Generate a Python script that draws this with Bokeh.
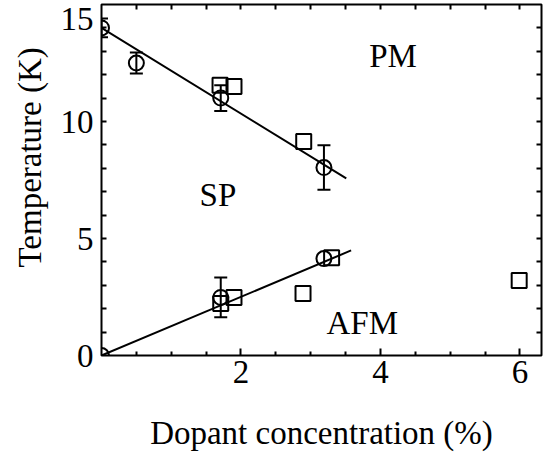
from bokeh.plotting import figure
from bokeh.models import (ColumnDataSource, Range1d, FixedTicker, LinearAxis,
                          Title, Whisker, TeeHead)
from bokeh.core.properties import value
from bokeh.embed import file_html
from bokeh.resources import INLINE

# ---- data ----
circ_x = [0.0, 0.5, 1.71, 3.19, 0.0, 1.71, 3.19]
circ_t = [14.0, 12.5, 11.0, 8.03, 0.0, 2.48, 4.14]
circ_err = [0.4, 0.45, 0.55, 0.95, 0.0, 0.85, 0.0]

sq_x = [1.70, 1.90, 2.90, 1.71, 1.90, 2.89, 3.30, 5.99]
sq_t = [11.55, 11.5, 9.15, 2.22, 2.48, 2.65, 4.18, 3.2]

fit_upper_x = [0.0, 3.51]
fit_upper_t = [14.0, 7.57]
fit_lower_x = [0.0, 3.58]
fit_lower_t = [0.0, 4.49]

phase_names = ["PM", "SP", "AFM"]
phase_x = [4.18, 1.67, 3.74]
phase_t = [12.8, 6.84, 1.41]

x_ticks = [2, 4, 6]
x_minor = [0.5, 1, 1.5, 2.5, 3, 3.5, 4.5, 5, 5.5]
x_all = [0.5, 1, 1.5, 2, 2.5, 3, 3.5, 4, 4.5, 5, 5.5, 6]
# the "15" label sits a little below the top edge, as in the reference
y_label_pos = [0, 5, 10, 14.4]
y_label_text = {14.4: "15"}
y_all = [1, 2, 3, 4, 5, 6, 7, 8, 9, 10, 11, 12, 13, 14]

FONT = "Liberation Serif"
FS = "33px"

p = figure(width=544, height=459, x_range=Range1d(0, 6.31), y_range=Range1d(0, 15),
           output_backend="svg", toolbar_location=None,
           min_border_left=101, min_border_right=3, min_border_top=4, min_border_bottom=104)
p.background_fill_color = "white"
p.border_fill_color = "white"
p.outline_line_color = "black"
p.outline_line_width = 2
p.xgrid.visible = False
p.ygrid.visible = False


def base_style(ax):
    ax.axis_line_color = None
    ax.major_tick_in = 7
    ax.major_tick_out = 0
    ax.minor_tick_in = 5
    ax.minor_tick_out = 0
    ax.major_tick_line_width = 2
    ax.minor_tick_line_width = 2
    ax.major_tick_line_color = "black"
    ax.minor_tick_line_color = "black"
    ax.major_label_text_font = FONT
    ax.major_label_text_font_size = FS
    ax.major_label_text_color = "black"


xa = p.xaxis[0]
xa.ticker = FixedTicker(ticks=x_ticks, minor_ticks=x_minor)
base_style(xa)
xa.minor_tick_in = 4
xa.major_label_standoff = 5
xa.axis_label = "Dopant concentration (%)"
xa.axis_label_text_font = FONT
xa.axis_label_text_font_size = FS
xa.axis_label_text_font_style = "normal"
xa.axis_label_text_color = "black"
xa.axis_label_standoff = 29

ya = p.yaxis[0]
ya.ticker = FixedTicker(ticks=y_label_pos, minor_ticks=y_all)
base_style(ya)
ya.major_tick_line_color = None
ya.minor_tick_in = 5
ya.major_label_standoff = 8
ya.major_label_overrides = y_label_text

top = LinearAxis(ticker=FixedTicker(ticks=[], minor_ticks=x_all))
base_style(top)
top.major_label_standoff = 0
p.add_layout(top, "above")
right = LinearAxis(ticker=FixedTicker(ticks=[], minor_ticks=y_all))
base_style(right)
right.major_label_standoff = 0
p.add_layout(right, "right")

# y title: starts from the bottom of the frame, shifted up as in the reference
ytitle = Title(text="Temperature (K)", align="left", offset=88, standoff=19,
               text_font=FONT, text_font_size=FS, text_font_style="normal",
               text_color="black")
p.add_layout(ytitle, "left")

# fitted lines
p.line(fit_upper_x, fit_upper_t, line_color="black", line_width=2)
p.line(fit_lower_x, fit_lower_t, line_color="black", line_width=2)

# error bars
ex = [x for x, e in zip(circ_x, circ_err) if e > 0]
et = [t for t, e in zip(circ_t, circ_err) if e > 0]
ee = [e for e in circ_err if e > 0]
esrc = ColumnDataSource(dict(x=ex, upper=[t + e for t, e in zip(et, ee)],
                             lower=[t - e for t, e in zip(et, ee)]))
w = Whisker(source=esrc, base="x", upper="upper", lower="lower", dimension="height",
            line_color="black", line_width=2,
            upper_head=TeeHead(size=13, line_width=2, line_color="black"),
            lower_head=TeeHead(size=13, line_width=2, line_color="black"))
p.add_layout(w)

# markers
p.scatter(circ_x, circ_t, marker="circle", size=15, fill_color=None,
          line_color="black", line_width=2)
p.scatter(sq_x, sq_t, marker="square", size=15, fill_color=None,
          line_color="black", line_width=2)

# phase labels
p.text(phase_x, phase_t, text=phase_names, text_font=value(FONT), text_font_size=FS,
       text_align="center", text_baseline="middle", text_color="black")

open("out.html", "w").write(file_html(p, INLINE))
